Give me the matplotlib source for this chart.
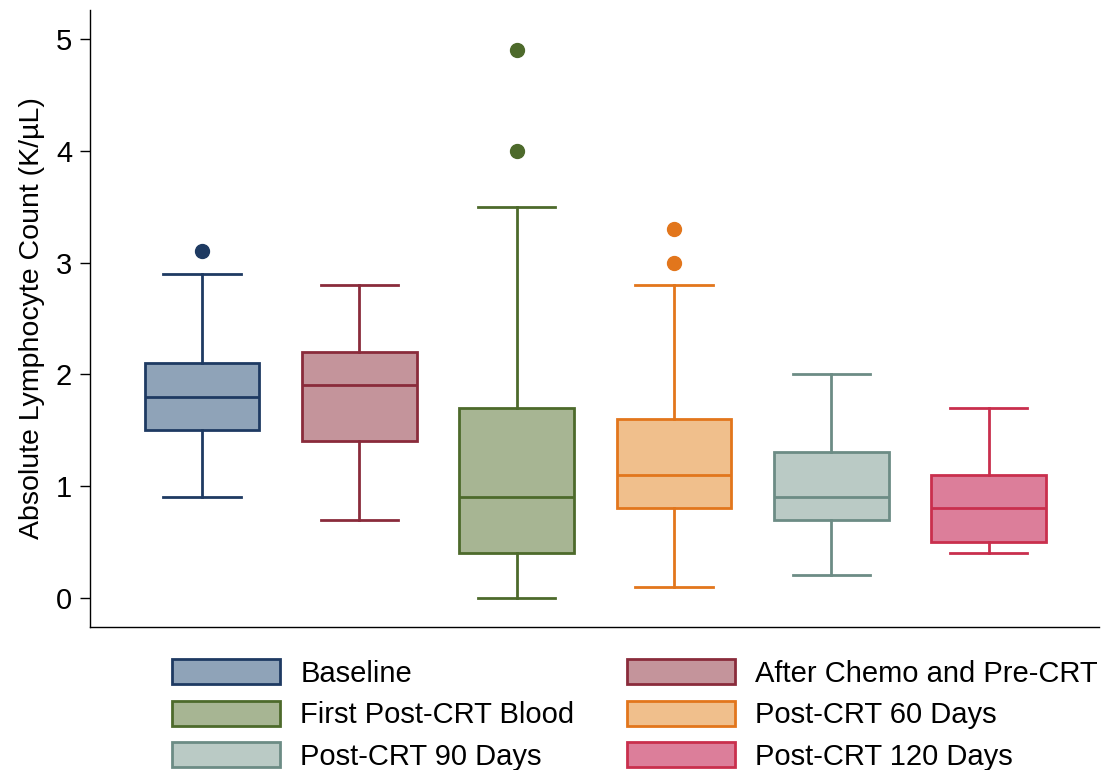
import matplotlib
matplotlib.use("Agg")
import matplotlib.pyplot as plt
from matplotlib.patches import Patch

plt.rcParams["font.family"] = ["Liberation Sans", "DejaVu Sans"]

groups = ["Baseline", "After Chemo and Pre-CRT", "First Post-CRT Blood",
          "Post-CRT 60 Days", "Post-CRT 90 Days", "Post-CRT 120 Days"]
whislo = [0.9, 0.7, 0.0, 0.1, 0.2, 0.4]
q1 = [1.5, 1.4, 0.4, 0.8, 0.7, 0.5]
med = [1.8, 1.9, 0.9, 1.1, 0.9, 0.8]
q3 = [2.1, 2.2, 1.7, 1.6, 1.3, 1.1]
whishi = [2.9, 2.8, 3.5, 2.8, 2.0, 1.7]
fliers = [[3.1], [], [4.0, 4.9], [3.0, 3.3], [], []]

edge_colors = ["#1e3a62", "#8a2b3b", "#4d6a2b", "#e2761c", "#6c8c85", "#c92f4d"]
fill_colors = ["#8fa3b8", "#c4949b", "#a7b593", "#f0bf8c", "#bacac5", "#dc7e9a"]

fig, ax = plt.subplots(figsize=(11.01, 7.7), dpi=100)
fig.subplots_adjust(left=0.082, right=0.998, top=0.987, bottom=0.186)

for i in range(len(groups)):
    stats = [dict(whislo=whislo[i], q1=q1[i], med=med[i], q3=q3[i],
                  whishi=whishi[i], fliers=fliers[i])]
    ec = edge_colors[i]
    ax.bxp(stats, positions=[i + 1], widths=0.73, capwidths=0.49,
           patch_artist=True, showfliers=True,
           boxprops=dict(facecolor=fill_colors[i], edgecolor=ec, linewidth=2),
           medianprops=dict(color=ec, linewidth=2),
           whiskerprops=dict(color=ec, linewidth=2),
           capprops=dict(color=ec, linewidth=2),
           flierprops=dict(marker="o", markerfacecolor=ec, markeredgecolor=ec,
                           markersize=10))

ax.set_xlim(0.29, 6.7)
ax.set_ylim(-0.26, 5.26)
ax.set_xticks([])
ax.set_yticks([0, 1, 2, 3, 4, 5])
ax.tick_params(axis="y", labelsize=21, length=7, width=1, pad=6)
ax.set_ylabel("Absolute Lymphocyte Count (K/\u00b5L)", fontsize=20.5, labelpad=8)
for side in ["top", "right"]:
    ax.spines[side].set_visible(False)
ax.spines["left"].set_linewidth(1)
ax.spines["bottom"].set_linewidth(1)

# column-wise fill: left column then right column
order = [0, 2, 4, 1, 3, 5]
handles = [Patch(facecolor=fill_colors[i], edgecolor=edge_colors[i], linewidth=2,
                 label=groups[i]) for i in order]
fig.legend(handles=handles, ncol=2, loc="lower left", bbox_to_anchor=(0.1325, -0.035),
           frameon=False, fontsize=21, handlelength=3.7, handleheight=0.95,
           labelspacing=0.44, columnspacing=1.8, handletextpad=0.7)

fig.savefig("out.png", dpi=100)
